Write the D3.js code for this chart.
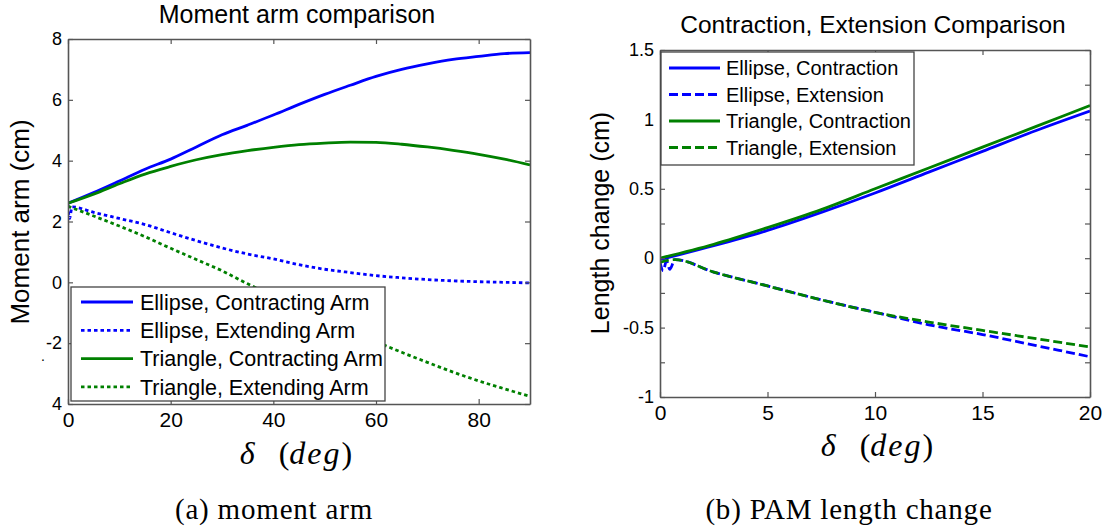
<!DOCTYPE html>
<html>
<head>
<meta charset="utf-8">
<script src="https://cdn.jsdelivr.net/npm/d3@7"></script>
<style>
  body { margin: 0; background: #fff; }
  text { font-family: "Liberation Sans", Arial, sans-serif; fill: #000; }
  .serif { font-family: "Liberation Serif", "Times New Roman", serif; }
</style>
</head>
<body>
<svg id="fig" width="1107" height="531"></svg>
<script>
/* (a) moment arm data */
const momentDeg = [0, 5, 10, 15, 20, 25, 30, 35, 40, 45, 50, 55, 60, 65, 70, 75, 80, 85, 90];
const ellipseContracting = [2.6, 2.95, 3.33, 3.72, 4.05, 4.45, 4.85, 5.17, 5.5, 5.85, 6.18, 6.48, 6.77, 7.0, 7.18, 7.33, 7.43, 7.52, 7.55];
const triangleContracting = [2.6, 2.9, 3.24, 3.56, 3.81, 4.03, 4.2, 4.33, 4.44, 4.53, 4.58, 4.61, 4.6, 4.54, 4.45, 4.34, 4.21, 4.05, 3.86];
const ellipseExtendingDeg = [0, 0.3, 0.8, 5, 10, 15, 20, 25, 30, 35, 40, 45, 50, 55, 60, 65, 70, 75, 80, 85, 90];
const ellipseExtending = [2.55, 2.1, 2.48, 2.3, 2.1, 1.9, 1.63, 1.37, 1.13, 0.93, 0.77, 0.58, 0.43, 0.32, 0.22, 0.15, 0.09, 0.05, 0.02, 0.0, -0.02];
const triangleExtending = [2.5, 2.18, 1.85, 1.5, 1.12, 0.75, 0.38, -0.05, -0.45, -0.83, -1.2, -1.57, -1.95, -2.3, -2.63, -2.95, -3.24, -3.5, -3.75];
const momentXTicks = [0, 20, 40, 60, 80];
const momentYTicks = [-4, -2, 0, 2, 4, 6, 8];
const momentYTickLabels = ['4', '-2', '0', '2', '4', '6', '8'];
const momentLegend = ['Ellipse, Contracting Arm', 'Ellipse, Extending Arm', 'Triangle, Contracting Arm', 'Triangle, Extending Arm'];

/* (b) PAM length change data */
const lengthDeg = [0, 2.5, 5, 7.5, 10, 12.5, 15, 17.5, 20];
const ellipseContraction = [-0.01, 0.09, 0.2, 0.33, 0.47, 0.62, 0.77, 0.92, 1.06];
const triangleContraction = [0, 0.1, 0.22, 0.35, 0.5, 0.65, 0.8, 0.95, 1.1];
const ellipseExtensionDeg = [0, 0.15, 0.3, 0.45, 0.7, 2.5, 5, 7.5, 10, 12.5, 15, 17.5, 20];
const ellipseExtension = [-0.03, -0.09, -0.02, -0.08, -0.01, -0.1, -0.2, -0.3, -0.39, -0.48, -0.55, -0.63, -0.71];
const triangleExtensionDeg = [0, 0.7, 2.5, 5, 7.5, 10, 12.5, 15, 17.5, 20];
const triangleExtension = [-0.03, -0.01, -0.1, -0.2, -0.3, -0.39, -0.46, -0.52, -0.58, -0.64];
const lengthXTicks = [0, 5, 10, 15, 20];
const lengthYTicks = [-1, -0.75, -0.5, -0.25, 0, 0.25, 0.5, 0.75, 1, 1.25, 1.5];
const lengthYTickLabels = ['-1', '', '-0.5', '', '0', '', '0.5', '', '1', '', '1.5'];
const lengthLegend = ['Ellipse, Contraction', 'Ellipse, Extension', 'Triangle, Contraction', 'Triangle, Extension'];

const blue = '#0000ff';
const green = '#008000';
const dotted = '3.5,3';
const dashed = '9,4';
const axisColor = '#555';

const svg = d3.select('#fig');

function drawPanel(p) {
  const x = d3.scaleLinear().domain(p.xDomain).range([p.left, p.right]);
  const y = d3.scaleLinear().domain(p.yDomain).range([p.bottom, p.top]);
  const g = svg.append('g');

  g.append('clipPath').attr('id', 'clip-' + p.id)
    .append('rect')
    .attr('x', p.left).attr('y', p.top)
    .attr('width', p.right - p.left).attr('height', p.bottom - p.top);

  const line = d3.line()
    .x(d => x(d[0]))
    .y(d => y(d[1]))
    .curve(d3.curveMonotoneX);

  g.append('g')
    .attr('clip-path', 'url(#clip-' + p.id + ')')
    .selectAll('path')
    .data(p.series)
    .enter().append('path')
    .attr('d', s => line(d3.zip(s.x, s.y)))
    .attr('fill', 'none')
    .attr('stroke', s => s.color)
    .attr('stroke-width', 2.8)
    .attr('stroke-dasharray', s => s.dash);

  // box with inward ticks on all four sides
  const yLabel = d => p.yTickLabels[p.yTicks.indexOf(d)];
  const axes = [
    [d3.axisBottom(x).tickValues(p.xTicks).tickPadding(8), 'translate(0,' + p.bottom + ')', 21],
    [d3.axisTop(x).tickValues(p.xTicks).tickFormat(''), 'translate(0,' + p.top + ')', 0],
    [d3.axisLeft(y).tickValues(p.yTicks).tickFormat(yLabel).tickPadding(6), 'translate(' + p.left + ',0)', 18],
    [d3.axisRight(y).tickValues(p.yTicks).tickFormat(''), 'translate(' + p.right + ',0)', 0]
  ];
  axes.forEach(a => {
    const ax = g.append('g')
      .attr('transform', a[1])
      .call(a[0].tickSizeInner(-5).tickSizeOuter(0));
    ax.select('.domain').attr('stroke', axisColor).attr('stroke-width', 1.6);
    ax.selectAll('.tick line').attr('stroke', axisColor).attr('stroke-width', 1.2);
    ax.selectAll('.tick text')
      .attr('fill', '#000')
      .style('font-family', '"Liberation Sans", Arial, sans-serif')
      .style('font-size', a[2] + 'px');
  });

  // legend
  const lg = p.legend;
  g.append('rect')
    .attr('x', lg.left).attr('y', lg.top)
    .attr('width', lg.right - lg.left).attr('height', lg.bottom - lg.top)
    .attr('fill', '#fff')
    .attr('stroke', '#444')
    .attr('stroke-width', 1.3);

  const item = g.selectAll('.legend-item')
    .data(p.series)
    .enter().append('g')
    .attr('class', 'legend-item')
    .attr('transform', (d, i) => 'translate(0,' + (lg.firstRow + i * lg.rowStep) + ')');

  item.append('line')
    .attr('x1', lg.sampleX0).attr('x2', lg.sampleX1)
    .attr('stroke', d => d.color)
    .attr('stroke-width', 2.8)
    .attr('stroke-dasharray', d => d.dash);

  item.append('text')
    .attr('x', lg.textX)
    .attr('dy', '0.36em')
    .style('font-size', lg.fontSize + 'px')
    .text((d, i) => p.legendNames[i]);

  // title, axis labels, caption
  g.append('text')
    .attr('x', p.titleX).attr('y', p.titleY)
    .attr('text-anchor', 'middle')
    .style('font-size', p.titleSize + 'px')
    .text(p.title);

  g.append('text')
    .attr('transform', 'translate(' + p.yLabelX + ',' + p.yLabelY + ') rotate(-90)')
    .attr('text-anchor', 'middle')
    .style('font-size', p.yLabelSize + 'px')
    .text(p.yLabel);

  const xl = g.append('text')
    .attr('class', 'serif')
    .attr('x', p.xLabelX).attr('y', p.xLabelY)
    .attr('text-anchor', 'middle')
    .style('font-size', '32px');
  xl.append('tspan').style('font-style', 'italic').text('δ');
  xl.append('tspan').attr('dx', 24).text('(');
  xl.append('tspan').style('font-style', 'italic').style('letter-spacing', '2px').text('deg');
  xl.append('tspan').text(')');

  g.append('text')
    .attr('class', 'serif')
    .attr('x', p.captionX).attr('y', 519)
    .attr('text-anchor', 'middle')
    .style('font-size', '29px')
    .style('letter-spacing', '0.8px')
    .text(p.caption);
}

drawPanel({
  id: 'moment',
  left: 68, right: 530, top: 39, bottom: 404,
  xDomain: [0, 90], yDomain: [-4, 8],
  xTicks: momentXTicks, yTicks: momentYTicks, yTickLabels: momentYTickLabels,
  series: [
    { x: momentDeg, y: ellipseContracting, color: blue, dash: null },
    { x: ellipseExtendingDeg, y: ellipseExtending, color: blue, dash: dotted },
    { x: momentDeg, y: triangleContracting, color: green, dash: null },
    { x: momentDeg, y: triangleExtending, color: green, dash: dotted }
  ],
  legendNames: momentLegend,
  legend: { left: 71, top: 287, right: 385, bottom: 401, firstRow: 302, rowStep: 28.3,
            sampleX0: 81, sampleX1: 133, textX: 140, fontSize: 21.5 },
  title: 'Moment arm comparison', titleX: 297, titleY: 23, titleSize: 25,
  yLabel: 'Moment arm (cm)', yLabelX: 29, yLabelY: 222, yLabelSize: 26,
  xLabelX: 296, xLabelY: 464,
  caption: '(a) moment arm', captionX: 274
});

// stray mark left of the -2 label in the source figure
svg.append('text').attr('x', 41).attr('y', 361).style('font-size', '14px').text('.');

drawPanel({
  id: 'length',
  left: 660, right: 1090, top: 50, bottom: 397,
  xDomain: [0, 20], yDomain: [-1, 1.5],
  xTicks: lengthXTicks, yTicks: lengthYTicks, yTickLabels: lengthYTickLabels,
  series: [
    { x: lengthDeg, y: ellipseContraction, color: blue, dash: null },
    { x: ellipseExtensionDeg, y: ellipseExtension, color: blue, dash: dashed },
    { x: lengthDeg, y: triangleContraction, color: green, dash: null },
    { x: triangleExtensionDeg, y: triangleExtension, color: green, dash: dashed }
  ],
  legendNames: lengthLegend,
  legend: { left: 661, top: 52, right: 914, bottom: 165, firstRow: 68, rowStep: 26.5,
            sampleX0: 669, sampleX1: 720, textX: 726, fontSize: 20 },
  title: 'Contraction, Extension Comparison', titleX: 873, titleY: 33, titleSize: 24.5,
  yLabel: 'Length change (cm)', yLabelX: 609, yLabelY: 223, yLabelSize: 25,
  xLabelX: 877, xLabelY: 456,
  caption: '(b) PAM length change', captionX: 849
});
</script>
</body>
</html>
